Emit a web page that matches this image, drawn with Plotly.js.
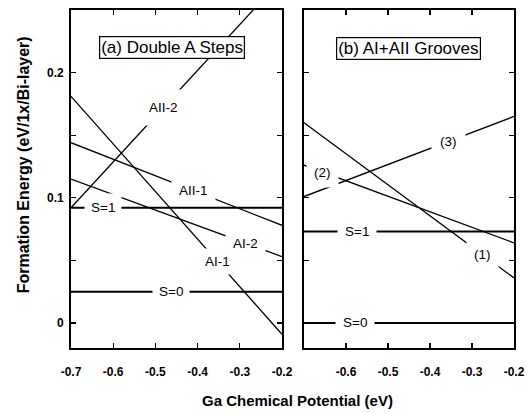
<!DOCTYPE html>
<html>
<head>
<meta charset="utf-8">
<script src="https://cdn.plot.ly/plotly-3.0.1.min.js"></script>
<style>html,body{margin:0;padding:0;background:#fff;}#chart{width:527px;height:413px;}</style>
</head>
<body>
<div id="chart"></div>
<script>
// Ga chemical potential end points (eV)
const xEnds = [-0.7, -0.2];

// Panel (a) Double A Steps: formation energies at x = -0.7 and x = -0.2
const aS0   = [0.025, 0.025];
const aS1   = [0.092, 0.092];
const aAI1  = [0.181, -0.009];
const aAI2  = [0.115, 0.053];
const aAII1 = [0.144, 0.078];
const aAII2 = [0.092, 0.275];

// Panel (b) AI+AII Grooves
const bS0 = [0.0, 0.0];
const bS1 = [0.073, 0.073];
const b1  = [0.160, 0.036];
const b2  = [0.126, 0.064];
const b3  = [0.101, 0.165];

// Line labels and the x where each sits on its line
const aNames  = ['S=0', 'S=1', 'AI-2', 'AII-1', 'AII-2', 'AI-1'];
const aSeries = [aS0, aS1, aAI2, aAII1, aAII2, aAI1];
const aLabelX = [-0.464, -0.624, -0.286, -0.410, -0.481, -0.352];

const bNames  = ['S=0', 'S=1', '(1)', '(2)', '(3)'];
const bSeries = [bS0, bS1, b1, b2, b3];
const bLabelX = [-0.579, -0.574, -0.274, -0.655, -0.357];

// gap padding around each label (style)
const aPad = [6, 6, 7, 7, 10, 5];
const bPad = [7, 7, 7, 7, 8];

const xTicksA = [-0.7, -0.6, -0.5, -0.4, -0.3, -0.2];
const xTextA  = ['-0.7', '-0.6', '-0.5', '-0.4', '-0.3', '-0.2'];
const xTextB  = ['', '-0.6', '-0.5', '-0.4', '-0.3', '-0.2'];
const yTicks  = [0, 0.05, 0.1, 0.15, 0.2];
const yText   = ['0', '', '0.1', '', '0.2'];

const FONT = 'Liberation Sans, Arial, Helvetica, sans-serif';

function interp(ys, x) {
  const t = (x - xEnds[0]) / (xEnds[1] - xEnds[0]);
  return ys[0] + t * (ys[1] - ys[0]);
}

const traces = [];
aSeries.forEach((ys, i) => {
  traces.push({x: xEnds, y: ys, mode: 'lines', name: aNames[i], xaxis: 'x', yaxis: 'y',
    line: {color: 'black', width: aNames[i].startsWith('S') ? 2 : 1.3}, hoverinfo: 'skip'});
});
bSeries.forEach((ys, i) => {
  traces.push({x: xEnds, y: ys, mode: 'lines', name: bNames[i], xaxis: 'x2', yaxis: 'y2',
    line: {color: 'black', width: bNames[i].startsWith('S') ? 2 : 1.3}, hoverinfo: 'skip'});
});

const annotations = [];
aNames.forEach((n, i) => {
  annotations.push({x: aLabelX[i], y: interp(aSeries[i], aLabelX[i]), xref: 'x', yref: 'y',
    text: n, showarrow: false, bgcolor: 'white', borderpad: aPad[i],
    font: {family: FONT, size: 13.5, color: 'black'}});
});
bNames.forEach((n, i) => {
  annotations.push({x: bLabelX[i], y: interp(bSeries[i], bLabelX[i]), xref: 'x2', yref: 'y2',
    text: n, showarrow: false, bgcolor: 'white', borderpad: bPad[i],
    font: {family: FONT, size: 13.5, color: 'black'}});
});
annotations.push({x: -0.461, y: 0.220, xref: 'x', yref: 'y', text: '(a) Double A Steps',
  showarrow: false, bgcolor: 'white', bordercolor: 'black', borderwidth: 1.2, borderpad: 1,
  font: {family: FONT, size: 17, color: 'black'}});
annotations.push({x: -0.452, y: 0.219, xref: 'x2', yref: 'y2', text: '(b) AI+AII Grooves',
  showarrow: false, bgcolor: 'white', bordercolor: 'black', borderwidth: 1.2, borderpad: 1,
  font: {family: FONT, size: 17, color: 'black'}});
annotations.push({x: 0.512, y: -0.154, xref: 'paper', yref: 'paper', text: 'Ga Chemical Potential (eV)',
  showarrow: false, yanchor: 'middle', font: {family: FONT, size: 15, color: 'black', weight: 'bold'}});
annotations.push({x: -0.108, y: 0.541, xref: 'paper', yref: 'paper', text: 'Formation Energy (eV/1x/Bi-layer)',
  showarrow: false, textangle: -90, xanchor: 'center', yanchor: 'middle',
  font: {family: FONT, size: 16, color: 'black', weight: 'bold'}});

const axisCommon = {
  showline: true, linecolor: 'black', linewidth: 1.8, mirror: 'ticks',
  ticks: 'inside', ticklen: 5, tickwidth: 1.3, tickcolor: 'black',
  showgrid: false, zeroline: false, fixedrange: true,
  tickfont: {family: FONT, size: 12, color: 'black', weight: 'bold'}
};

const layout = {
  width: 527, height: 413,
  margin: {l: 71, r: 13, t: 10, b: 65},
  paper_bgcolor: 'white', plot_bgcolor: 'white',
  showlegend: false,
  xaxis: Object.assign({}, axisCommon, {domain: [0, 0.4763], range: [-0.7, -0.2],
    tickmode: 'array', tickvals: xTicksA, ticktext: xTextA, anchor: 'y', ticklabelstandoff: 12}),
  xaxis2: Object.assign({}, axisCommon, {domain: [0.526, 1], range: [-0.7, -0.2],
    tickmode: 'array', tickvals: xTicksA, ticktext: xTextB, anchor: 'y2', ticklabelstandoff: 12}),
  yaxis: Object.assign({}, axisCommon, {domain: [0, 1], range: [-0.02, 0.25],
    tickmode: 'array', tickvals: yTicks, ticktext: yText, anchor: 'x', ticklabelstandoff: 3}),
  yaxis2: Object.assign({}, axisCommon, {domain: [0, 1], range: [-0.02, 0.25],
    tickmode: 'array', tickvals: yTicks, ticktext: yText, showticklabels: false, anchor: 'x2'}),
  annotations: annotations
};

Plotly.newPlot('chart', traces, layout, {displayModeBar: false, staticPlot: true});
</script>
</body>
</html>
